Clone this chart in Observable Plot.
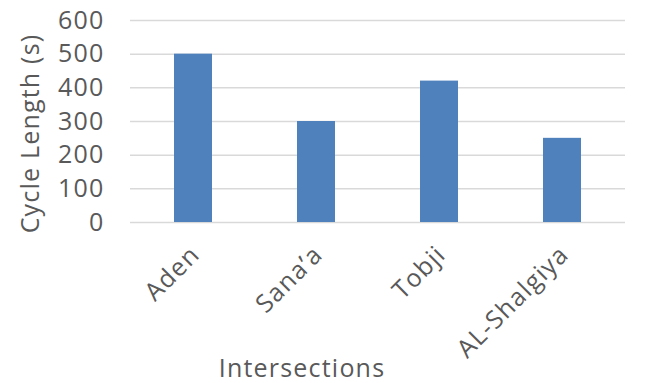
<!DOCTYPE html>
<html>
<head>
<meta charset="utf-8">
<script src="https://cdn.jsdelivr.net/npm/d3@7"></script>
<script src="https://cdn.jsdelivr.net/npm/@observablehq/plot@0.6"></script>
<style>
  html, body { margin: 0; padding: 0; background: #fff; }
</style>
</head>
<body>
<div id="chart"></div>
<script>
const intersections = ["Aden", "Sana\u2019a", "Tobji", "AL-Shalgiya"];
const cycleLength = [500, 300, 420, 250];
const yTicks = [0, 100, 200, 300, 400, 500, 600];
const xTitle = "Intersections";
const yTitle = "Cycle Length (s)";

const data = intersections.map((name, i) => ({name, value: cycleLength[i]}));
const textColor = "#595959";

const chart = Plot.plot({
  width: 646,
  height: 383,
  marginTop: 20,
  marginBottom: 161,
  marginLeft: 130,
  marginRight: 21,
  style: {
    fontFamily: "'Open Sans', sans-serif",
    fontSize: "25px",
    letterSpacing: "1.2px",
    color: textColor,
    background: "#fff"
  },
  x: {domain: intersections, paddingInner: 0.69, paddingOuter: 0.345, label: null},
  y: {domain: [0, 600], label: null},
  marks: [
    Plot.gridY(yTicks, {stroke: "#d9d9d9", strokeOpacity: 1, strokeWidth: 1.5}),
    Plot.barY(data, {x: "name", y: "value", fill: "#4f81bd"}),
    Plot.axisY(yTicks, {tickSize: 0, tickPadding: 26, label: null, fill: textColor}),
    Plot.axisX({tickSize: 0, tickRotate: -45, tickPadding: 28, dx: 2, label: null, fill: textColor}),
    Plot.text([yTitle], {frameAnchor: "left", rotate: -90, dx: -100, dy: 12, textAnchor: "middle", lineAnchor: "middle", fill: textColor}),
    Plot.text([xTitle], {frameAnchor: "bottom", dx: -76, dy: 154, textAnchor: "middle", lineAnchor: "bottom", fill: textColor})
  ]
});
document.getElementById("chart").appendChild(chart);
</script>
</body>
</html>
